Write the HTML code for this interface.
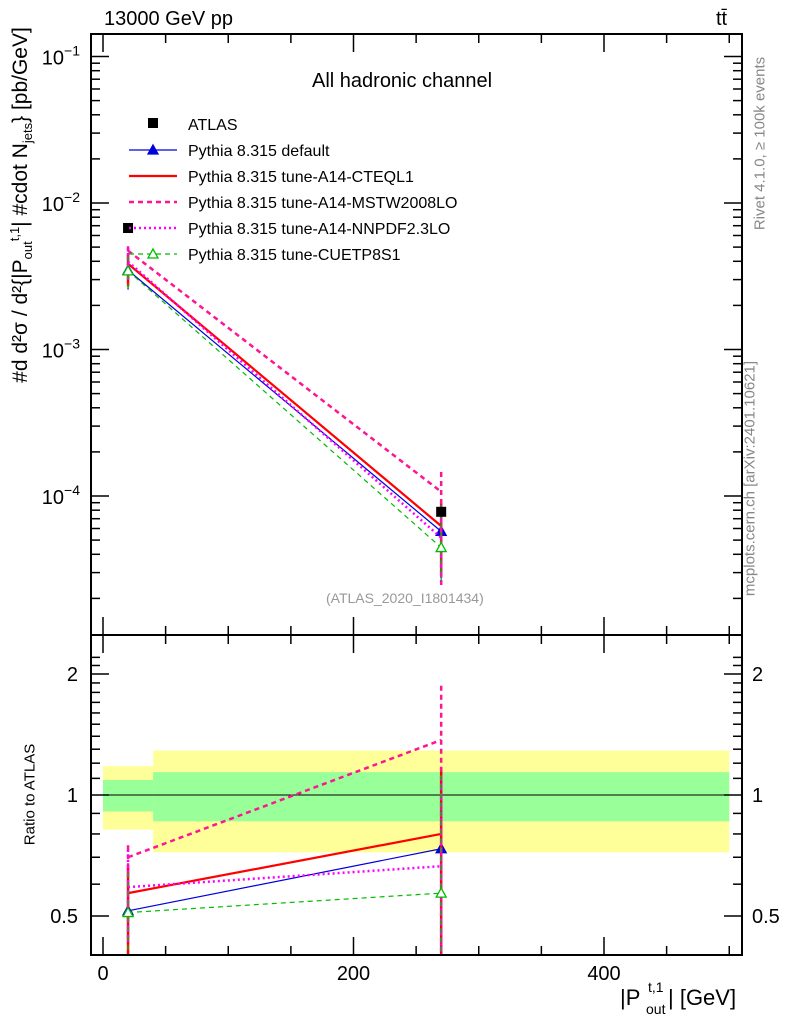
<!DOCTYPE html>
<html><head><meta charset="utf-8"><style>
body{margin:0;background:#fff}
svg{display:block;font-family:"Liberation Sans",sans-serif}
</style></head><body>
<svg id="c" width="786" height="1024" viewBox="0 0 786 1024"></svg>
<script>
const xEdges=[0,40,500];
const xPts=[20,270];
const atlas=[6.75e-3,7.8e-5];
const statBand=[[1.09,0.91],[1.14,0.86]];
const totBand=[[1.18,0.82],[1.29,0.72]];
const names=["Pythia 8.315 default","Pythia 8.315 tune-A14-CTEQL1","Pythia 8.315 tune-A14-MSTW2008LO","Pythia 8.315 tune-A14-NNPDF2.3LO","Pythia 8.315 tune-CUETP8S1"];
const rDefault=[0.515,0.735];
const rCTEQ=[0.57,0.80];
const rMSTW=[0.70,1.37];
const rNNPDF=[0.59,0.665];
const rCUETP=[0.51,0.57];
const eUp=[[0.64,1.15],[0.66,1.17],[0.75,1.87],[0.73,1.10],[0.64,1.12]];
const eDn=[[0.38,0.35],[0.40,0.37],[0.44,0.30],[0.43,0.33],[0.38,0.34]];
const xTicks=[0,200,400];
const yMainTicks=[-1,-2,-3,-4];
const yRatioTicks=[2,1,0.5];

const S=document.getElementById('c');
const NS="http://www.w3.org/2000/svg";
function el(t,a,p){const e=document.createElementNS(NS,t);for(const k in a)e.setAttribute(k,a[k]);(p||S).appendChild(e);return e;}
const L=91,R=742,T=34,M=635,B=955;
const X=v=>103+v*1.2525;
const YM=v=>203-(Math.log10(v)+2)*146.5;
const YR=r=>Math.min(B+5,Math.max(M,795-Math.log2(r)*121));
const ratios=[rDefault,rCTEQ,rMSTW,rNNPDF,rCUETP];
const cols=["#0000dd","#ff0000","#ff1493","#ff00ff","#00bb00"];
const widths=[1.2,2.2,2.5,2.5,1.2];
const dashes=["","","5,4","2,3","5,4"];

const defs=el('defs',{});
const cp1=el('clipPath',{id:'cm'},defs);el('rect',{x:L,y:T,width:R-L,height:M-T},cp1);
const cp2=el('clipPath',{id:'cr'},defs);el('rect',{x:L,y:M,width:R-L,height:B-M},cp2);

for(let i=0;i<2;i++){
 let b=el('rect',{x:X(xEdges[i]),y:YR(totBand[i][0]),width:X(xEdges[i+1])-X(xEdges[i]),height:YR(totBand[i][1])-YR(totBand[i][0]),fill:'#ffff99'});
 
 
 let g=el('rect',{x:X(xEdges[i]),y:YR(statBand[i][0]),width:X(xEdges[i+1])-X(xEdges[i]),height:YR(statBand[i][1])-YR(statBand[i][0]),fill:'#99ff99'});
 
 
}
el('line',{x1:X(0),x2:X(500),y1:YR(1),y2:YR(1),stroke:'#000','stroke-width':1});

const gm=el('g',{'clip-path':'url(#cm)'});
const gr=el('g',{'clip-path':'url(#cr)'});
function tri(g,x,y,c,fill){const p=el('path',{d:`M${x-5},${y+4}L${x+5},${y+4}L${x},${y-5}Z`,fill:fill?c:'#fff',stroke:c,'stroke-width':1.3},g);
 
 }
ratios.forEach((r,s)=>{
 [[gm,v=>YM(v),i=>r[i]*atlas[i]],[gr,v=>YR(v),i=>r[i]]].forEach(([g,Y,val],pi)=>{
  const pts=xPts.map((x,i)=>X(x)+','+Y(val(i))).join(' ');
  const pl=el('polyline',{points:pts,fill:'none',stroke:cols[s],'stroke-width':widths[s],'stroke-dasharray':dashes[s]},g);
  
  
  xPts.forEach((x,i)=>{
   const f=pi==0?atlas[i]:1;
   const eb=el('line',{x1:X(x),x2:X(x),y1:Y(eUp[s][i]*f),y2:Y(eDn[s][i]*f),stroke:cols[s],'stroke-width':widths[s]>2?2.5:1.3,'stroke-dasharray':dashes[s]},g);
   
   
   if(s==0)tri(g,X(x),Y(val(i)),cols[s],true);
   if(s==4)tri(g,X(x),Y(val(i)),cols[s],false);
  });
 });
});
atlas.forEach((v,i)=>{const m=el('rect',{x:X(xPts[i])-5,y:YM(v)-5,width:10,height:10,fill:'#000'},gm);
 
 });

el('rect',{x:L,y:T,width:R-L,height:M-T,fill:'none',stroke:'#000','stroke-width':2});
el('rect',{x:L,y:M,width:R-L,height:B-M,fill:'none',stroke:'#000','stroke-width':2});
for(let v=0;v<=500;v+=50){const big=v%200==0;const len=big?18:9;
 [[T,1],[M,-1],[M,1],[B,-1]].forEach(([y,d])=>el('line',{x1:X(v),x2:X(v),y1:y,y2:y+d*len,stroke:'#000','stroke-width':1.5}));}
xTicks.forEach(v=>{const t=el('text',{x:X(v),y:980,'font-size':20,'text-anchor':'middle'});t.textContent=v;
 
 });
for(let e=-5;e<=-1;e++)for(let k=1;k<10;k++){const v=k*Math.pow(10,e);const y=YM(v);if(y<T||y>M)continue;const len=k==1?18:9;
 el('line',{x1:L,x2:L+len,y1:y,y2:y,stroke:'#000','stroke-width':1.5});el('line',{x1:R,x2:R-len,y1:y,y2:y,stroke:'#000','stroke-width':1.5});}
yMainTicks.forEach(e=>{const t=el('text',{x:80,y:YM(Math.pow(10,e))+8,'font-size':20,'text-anchor':'end'});t.innerHTML=`10<tspan dy="-9" font-size="14">−${-e}</tspan>`;
 
 });
for(let r=0.4;r<=2.3;r+=0.1){const y=YR(r);if(y<=M||y>=B)continue;const big=[0.5,1,2].some(q=>Math.abs(q-r)<1e-6);const len=big?18:9;
 el('line',{x1:L,x2:L+len,y1:y,y2:y,stroke:'#000','stroke-width':1.5});el('line',{x1:R,x2:R-len,y1:y,y2:y,stroke:'#000','stroke-width':1.5});}
yRatioTicks.forEach(r=>{[[78,'end'],[752,'start']].forEach(([x,a])=>{const t=el('text',{x:x,y:YR(r)+7,'font-size':20,'text-anchor':a});t.textContent=r;
 
 });});

const lg=el('g',{});


el('rect',{x:148,y:118,width:10,height:10,fill:'#000'},lg);
let t0=el('text',{x:188,y:130,'font-size':16},lg);t0.textContent="ATLAS";
names.forEach((n,s)=>{const y=150+s*26;
 el('line',{x1:129,x2:177,y1:y,y2:y,stroke:cols[s],'stroke-width':widths[s],'stroke-dasharray':dashes[s]},lg);
 if(s==0)tri(lg,153,y,cols[s],true);if(s==4)tri(lg,153,y,cols[s],false);
 const t=el('text',{x:188,y:y+6,'font-size':16},lg);t.textContent=n;
 
 });
</script>
<div style="position:absolute;left:0;top:0;width:786px;height:1024px;font-family:'Liberation Sans',sans-serif;pointer-events:none">
<div style="position:absolute;left:104px;top:8px;font-size:20px">13000 GeV pp</div>
<div style="position:absolute;left:716px;top:8px;font-size:20px">tt̄</div>
<div style="position:absolute;left:312px;top:70px;font-size:20px">All hadronic channel</div>
<div style="position:absolute;left:326px;top:590px;font-size:14px;color:#999">(ATLAS_2020_I1801434)</div>
<div style="position:absolute;left:620px;top:985px;width:130px;height:40px;font-size:22px">
 <span style="position:absolute;left:0;top:0">|P</span>
 <span style="position:absolute;left:28px;top:-6px;font-size:14px">t,1</span>
 <span style="position:absolute;left:26px;top:16px;font-size:14px">out</span>
 <span style="position:absolute;left:48px;top:0;white-space:nowrap">| [GeV]</span>
</div>
<div style="position:absolute;left:-30px;top:786px;width:120px;text-align:center;font-size:15px;transform:rotate(-90deg);white-space:nowrap">Ratio to ATLAS</div>
<div style="position:absolute;left:-178px;top:190px;width:400px;height:30px;text-align:center;font-size:21px;transform:rotate(-90deg);white-space:nowrap">#d d²σ / d²{|P<sub style="font-size:13px">out</sub><sup style="font-size:13px">t,1</sup>| #cdot N<sub style="font-size:13px">jets</sub>} [pb/GeV]</div>
<div style="position:absolute;left:635px;top:135px;width:250px;text-align:center;font-size:15px;color:#888;transform:rotate(-90deg);white-space:nowrap">Rivet 4.1.0, ≥ 100k events</div>
<div style="position:absolute;left:600px;top:470px;width:300px;text-align:center;font-size:15px;color:#888;transform:rotate(-90deg);white-space:nowrap">mcplots.cern.ch [arXiv:2401.10621]</div>
</div>
</body></html>
